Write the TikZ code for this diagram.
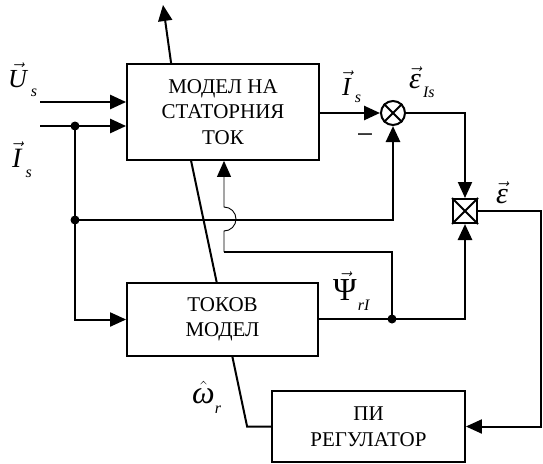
\documentclass[tikz,border=0pt]{standalone}
\usepackage{fontspec}
\setmainfont{Liberation Serif}
\usetikzlibrary{arrows.meta,backgrounds}
\begin{document}
\begin{tikzpicture}[x=1pt,y=-1pt,
  blk/.style={draw, line width=1.8pt, fill=white, inner sep=0pt, align=center, font=\fontsize{21}{25.5}\selectfont},
  sig/.style={line width=2.6pt},
  med/.style={line width=2pt},
  mthn/.style={line width=1.4pt},
  thn/.style={line width=0.9pt},
  arr/.style={-{Triangle[length=16pt,width=14pt]}},
  jdot/.style={circle, fill, inner sep=0pt, minimum size=9pt},
  lbl/.style={inner sep=0pt, anchor=base west, font=\fontsize{26}{26}\selectfont\itshape}
]
\useasboundingbox (0,0) rectangle (543,463);

% blocks
\node[blk, minimum width=192pt, minimum height=96pt] (cm) at (223,112) {МОДЕЛ НА\\СТАТОРНИЯ\\ТОК};
\node[blk, minimum width=191pt, minimum height=73pt] (tm) at (222.5,319.5) {ТОКОВ\\МОДЕЛ};
\node[blk, minimum width=193pt, minimum height=71pt] (pi) at (368.5,426.5) {ПИ\\РЕГУЛАТОР};

% summing / comparing elements
\node[circle, draw, med, minimum size=24pt, inner sep=0pt] (sum) at (393,113) {};
\draw[med] (sum.45) -- (sum.225) (sum.135) -- (sum.315);
\node[draw, med, minimum size=24pt, inner sep=0pt] (mul) at (465,211) {};
\draw[med] (mul.north west) -- (mul.south east) (mul.north east) -- (mul.south west);

% junction dots
\node[jdot] (d1) at (75,126) {};
\node[jdot] (d2) at (75,220) {};
\node[jdot] (d3) at (392,319) {};

% free ends
\coordinate (uin) at (40,102);
\coordinate (iin) at (40,126);
\coordinate (up) at (163,5);
\coordinate (k1) at (392,252);
\coordinate (k2) at (224,252);
\coordinate (rr) at (541,211);

% diagonal (omega) line behind the current model
\begin{pgfonlayer}{background}
\draw[med] (pi.west) -- ++(-24,0) -- ([xshift=65pt]cm.south west);
\end{pgfonlayer}

% connectors
\draw[med,arr] ([xshift=45pt]cm.north west) -- (up);
\draw[sig,arr] (uin) -- (uin -| cm.west);
\draw[sig,arr] (iin) -- (iin -| cm.west);
\draw[med] (d1.center) -- (d2.center);
\draw[med,arr] (d2.center) |- (tm.west);
\draw[sig,arr] (sum -| cm.east) -- (sum.west);
\draw[sig,arr] (d2.center) -| (sum.south);
\draw[med,arr] (sum.east) -| (mul.north);
\draw[med] (d3 -| tm.east) -- (d3.center);
\draw[sig,arr] (d3.center) -| (mul.south);
\draw[mthn] (d3.center) -- (k1) -- (k2);
\draw[thn,arr] (k2) -- (224,231) arc[start angle=-90, end angle=90, radius=12pt] -- (k2 |- cm.south);
\draw[med,arr] (mul.east) -- (rr) |- (pi.east);

% labels
\node[lbl] (lu) at (8,87) {$\vec{\hbox{U}}$\kern4pt\raisebox{-9pt}{\fontsize{16}{16}\selectfont s}};
\node[lbl, font=\fontsize{28}{28}\selectfont\itshape] (li) at (12,167) {$\vec{\hbox{I}}$\kern4pt\raisebox{-10pt}{\fontsize{16}{16}\selectfont s}};
\node[lbl] (lis) at (342,95) {$\vec{\hbox{I}}$\kern4pt\raisebox{-7pt}{\fontsize{16}{16}\selectfont s}};
\node[lbl, font=\fontsize{30}{30}\selectfont\itshape] (leis) at (409,88) {$\vec{\hbox{ε}}$\kern2pt\raisebox{-9pt}{\fontsize{16}{16}\selectfont Is}};
\node[lbl, font=\fontsize{30}{30}\selectfont\itshape] (le) at (496,203) {$\vec{\hbox{ε}}$};
\node[lbl, font=\fontsize{32}{32}\selectfont] (lpsi) at (333,300) {$\vec{\hbox{Ψ}}$\kern1pt\raisebox{-10pt}{\fontsize{16}{16}\selectfont\itshape rI}};
\node[lbl, font=\fontsize{32}{32}\selectfont\itshape] (lw) at (192,403) {$\hat{\hbox{ω}}$\kern0pt\raisebox{-10pt}{\fontsize{16}{16}\selectfont r}};
\node[inner sep=0pt, anchor=base, font=\fontsize{30}{30}\selectfont] (mn) at (365,144) {−};
\end{tikzpicture}
\end{document}
